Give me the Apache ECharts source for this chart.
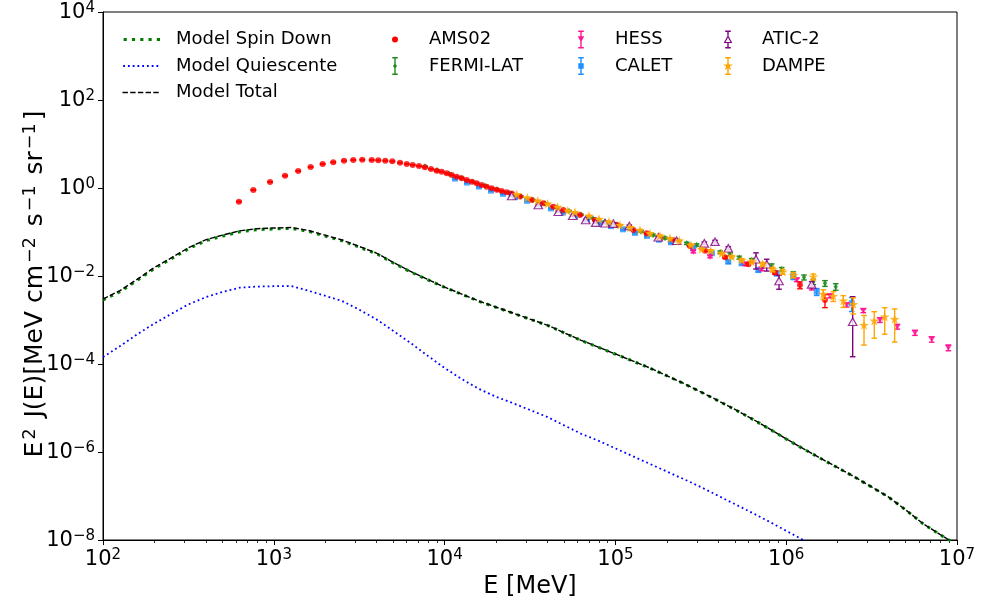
<!DOCTYPE html>
<html><head><meta charset="utf-8">
<script src="https://cdn.jsdelivr.net/npm/echarts@6/dist/echarts.min.js"></script>
<style>html,body{margin:0;padding:0;background:#fff}#c{width:981px;height:605px}</style>
</head><body><div id="c"></div>
<script>
// ---------- model curves (E in MeV, E^2 J(E)) ----------
const modelE = [100,125.9,158.5,199.5,251.2,316.2,398.1,501.2,631,794.3,1000,1259,1585,1995,2512,3162,3981,5012,6310,7943,1e4,1.259e4,1.585e4,1.995e4,2.512e4,3.162e4,3.981e4,5.012e4,6.31e4,7.943e4,1e5,1.259e5,1.585e5,1.995e5,2.512e5,3.162e5,3.981e5,5.012e5,6.31e5,7.943e5,1e6,1.259e6,1.585e6,1.995e6,2.512e6,3.162e6,3.981e6,5.012e6,6.31e6,7.943e6,1e7];
const spinDown = [2.85e-3,4.40e-3,7.94e-3,1.47e-2,2.45e-2,4.15e-2,6.31e-2,8.07e-2,0.101,0.113,0.117,0.121,0.104,8.11e-2,6.31e-2,4.52e-2,3.23e-2,1.97e-2,1.24e-2,8.24e-3,5.51e-3,3.84e-3,2.67e-3,1.95e-3,1.43e-3,1.04e-3,7.62e-4,5.09e-4,3.42e-4,2.40e-4,1.68e-4,1.17e-4,8.13e-5,5.42e-5,3.59e-5,2.31e-5,1.47e-5,9.20e-6,5.65e-6,3.37e-6,1.97e-6,1.18e-6,7.19e-7,4.42e-7,2.70e-7,1.60e-7,9.40e-8,4.81e-8,2.36e-8,1.33e-8,7.69e-9];
const quiescent = [1.44e-4,2.55e-4,4.73e-4,8.28e-4,1.38e-3,2.26e-3,3.28e-3,4.36e-3,5.42e-3,5.74e-3,5.86e-3,5.93e-3,4.66e-3,3.56e-3,2.70e-3,1.72e-3,1.04e-3,5.62e-4,3.03e-4,1.55e-4,8.11e-5,4.56e-5,2.73e-5,1.81e-5,1.29e-5,9.0e-6,6.31e-6,4.03e-6,2.59e-6,1.81e-6,1.21e-6,8.07e-7,5.40e-7,3.61e-7,2.42e-7,1.60e-7,1.02e-7,6.52e-8,4.17e-8,2.62e-8,1.62e-8,1.0e-8,5.9e-9];
const total = [2.99e-3,4.66e-3,8.41e-3,1.55e-2,2.59e-2,4.38e-2,6.64e-2,8.51e-2,0.106,0.119,0.123,0.127,0.109,8.47e-2,6.58e-2,4.69e-2,3.33e-2,2.03e-2,1.27e-2,8.40e-3,5.59e-3,3.89e-3,2.70e-3,1.97e-3,1.44e-3,1.05e-3,7.68e-4,5.13e-4,3.45e-4,2.42e-4,1.69e-4,1.18e-4,8.18e-5,5.46e-5,3.61e-5,2.33e-5,1.48e-5,9.27e-6,5.69e-6,3.40e-6,1.99e-6,1.19e-6,7.25e-7,4.45e-7,2.72e-7,1.61e-7,9.45e-8,4.83e-8,2.37e-8,1.34e-8,7.72e-9];

// ---------- measurements ----------
const amsE = [625,759,951,1164,1390,1643,1932,2229,2576,2921,3297,3743,4092,4498,4943,5483,6003,6506,7079,7674,8325,8985,9616,10290,11010,11780,12600,13470,14420,15420,16490,17640,18870,20180,21580,23090,24700,27630,32340,37830,43290,49530,62060,76010,101800,127400,152500,182500,218400,273400,334700,438500,600300,859700,1204000,1687000];
const amsF = [0.489,0.901,1.37,1.90,2.43,3.00,3.51,3.84,4.17,4.33,4.40,4.33,4.26,4.17,4.04,3.76,3.51,3.33,3.16,2.95,2.70,2.47,2.35,2.16,1.97,1.81,1.66,1.52,1.39,1.28,1.17,1.07,0.984,0.915,0.855,0.798,0.750,0.641,0.533,0.449,0.376,0.316,0.243,0.187,0.144,0.111,0.0933,0.0719,0.0658,0.0481,0.0376,0.0266,0.0185,0.0119,0.00624,0.00285];
const amsErr = [0.02,0.02,0.02,0.02,0.02,0.02,0.02,0.02,0.02,0.02,0.02,0.02,0.02,0.02,0.02,0.02,0.02,0.02,0.02,0.02,0.02,0.02,0.02,0.02,0.02,0.02,0.02,0.02,0.02,0.02,0.02,0.02,0.02,0.02,0.02,0.02,0.02,0.02,0.02,0.02,0.02,0.02,0.02,0.02,0.02,0.02,0.02,0.02,0.02,0.03,0.04,0.05,0.06,0.08,0.18,0.33];

const fermiE = [7674,9027,10610,12480,14660,17240,20270,23820,28010,32930,38720,45510,53500,62900,73950,86940,102200,120100,141300,166000,195200,229500,261600,299300,410900,470000,531500,628000,822600,941000,1101000,1271000,1441000,1687000,1949000];
const fermiF = [3.08,2.52,2.12,1.71,1.38,1.12,0.925,0.778,0.641,0.533,0.445,0.360,0.300,0.246,0.203,0.173,0.148,0.120,0.103,0.0855,0.0731,0.0624,0.0553,0.0507,0.0346,0.0311,0.0261,0.0231,0.0171,0.0142,0.0111,0.00933,0.00741,0.00683,0.00571];
const fermiErr = [0.03,0.03,0.03,0.03,0.03,0.03,0.03,0.03,0.03,0.03,0.03,0.03,0.03,0.03,0.03,0.03,0.04,0.04,0.04,0.05,0.05,0.05,0.06,0.06,0.07,0.07,0.08,0.08,0.1,0.1,0.12,0.13,0.14,0.15,0.17];

const hessE = [285800,358100,573800,718900,1152000,1409000,1805000,2260000,2828000,3540000,4473000,5676000,7110000,8900000];
const hessF = [0.0356,0.0275,0.0185,0.0142,0.00811,0.00525,0.00351,0.00219,0.00163,0.00100,0.000705,0.000514,0.000364,0.000235];
const hessErr = [0.06,0.06,0.07,0.07,0.08,0.08,0.09,0.1,0.1,0.12,0.12,0.13,0.14,0.15];

const caletE = [11510,13520,15890,18690,21980,25830,30370,35700,41980,49340,58010,68190,80170,94240,110800,130200,153100,180000,211600,284700,366300,458100,548900,686700,879800,1101000,1509000,2418000];
const caletF = [1.64,1.33,1.08,0.873,0.738,0.624,0.512,0.420,0.344,0.277,0.231,0.189,0.158,0.136,0.115,0.0955,0.0815,0.0668,0.0583,0.0433,0.0328,0.0211,0.0195,0.0137,0.0115,0.00964,0.00440,0.00240];
const caletErr = [0.03,0.03,0.03,0.03,0.03,0.03,0.03,0.03,0.03,0.03,0.03,0.03,0.03,0.03,0.03,0.04,0.04,0.05,0.05,0.06,0.07,0.08,0.09,0.1,0.12,0.14,0.18,0.35];

const aticE = [24700,35370,46320,56230,67000,76680,86940,97200,120600,178300,228500,331600,383000,458100,665300,768900,907800,1409000,2450000];
const aticF = [0.658,0.411,0.289,0.234,0.187,0.163,0.158,0.155,0.137,0.0758,0.0634,0.0553,0.0603,0.0427,0.0240,0.0185,0.00769,0.00647,0.000914];
const aticErrLo = [0.04,0.04,0.04,0.04,0.04,0.04,0.04,0.05,0.05,0.06,0.06,0.07,0.07,0.08,0.4,0.3,0.35,0.15,0.84];
const aticErrHi = [0.04,0.04,0.04,0.04,0.04,0.04,0.04,0.05,0.05,0.06,0.06,0.07,0.07,0.08,0.4,0.3,0.35,0.15,2.7];

const dampeE = [26430,30500,35080,40150,45920,52560,58010,70050,80170,91730,106400,121800,139300,159400,182500,208800,236600,277100,320100,361400,419300,479700,548900,628000,728600,833600,954000,1101000,1441000,1649000,1887000,2160000,2470000,2855000,3280000,3773000,4315000];
const dampeF = [0.719,0.602,0.514,0.440,0.370,0.305,0.281,0.234,0.197,0.171,0.144,0.128,0.111,0.0933,0.0824,0.0719,0.0634,0.0507,0.0411,0.0376,0.0328,0.0275,0.0231,0.0211,0.0187,0.0142,0.0125,0.0105,0.00964,0.00390,0.00351,0.00275,0.00228,0.000769,0.000964,0.00119,0.00105];
const dampeErr = [0.02,0.02,0.02,0.02,0.02,0.02,0.02,0.02,0.02,0.02,0.02,0.02,0.02,0.02,0.03,0.03,0.03,0.04,0.04,0.05,0.05,0.06,0.07,0.08,0.09,0.1,0.12,0.13,0.15,0.25,0.25,0.3,0.4,0.65,0.6,0.6,0.7];

// ---------- labels ----------
const xTitle = 'E [MeV]';
const legendCol1 = ['Model Spin Down','Model Quiescente','Model Total'];
const legendCol2 = ['AMS02','FERMI-LAT'];
const legendCol3 = ['HESS','CALET'];
const legendCol4 = ['ATIC-2','DAMPE'];

const FONT = 'DejaVu Sans';
const C = {spin:'#008000', quiet:'#0000ff', total:'#000000', ams:'#ff0000', fermi:'#228b22',
           hess:'#ff1493', calet:'#1e90ff', atic:'#800080', dampe:'#ffa500'};

function pairs(xs, ys){ const o=[]; for(let i=0;i<ys.length;i++) o.push([xs[i], ys[i]]); return o; }
function errData(xs, ys, lo, hi){ const o=[]; for(let i=0;i<ys.length;i++) o.push([xs[i], ys[i]*(1-lo[i]), ys[i]*(1+hi[i])]); return o; }

function errSeries(name, data, color, z){
  return {
    type:'custom', name, z, coordinateSystem:'cartesian2d', data,
    encode:{x:0, y:[1,2]}, silent:true,
    renderItem(params, api){
      const x = api.value(0), lo = api.value(1), hi = api.value(2);
      const p1 = api.coord([x, hi]), p2 = api.coord([x, lo]);
      const cw = 2.8, st = {stroke: color, lineWidth: 1.4, fill: null};
      return {type:'group', children:[
        {type:'line', shape:{x1:p1[0], y1:p1[1], x2:p2[0], y2:p2[1]}, style:st},
        {type:'line', shape:{x1:p1[0]-cw, y1:p1[1], x2:p1[0]+cw, y2:p1[1]}, style:st},
        {type:'line', shape:{x1:p2[0]-cw, y1:p2[1], x2:p2[0]+cw, y2:p2[1]}, style:st}
      ]};
    }
  };
}

const STAR = 'path://M20,4.5L21.18,7.88L24.76,7.95L21.9,10.12L22.94,13.55L20,11.5L17.06,13.55L18.1,10.12L15.24,7.95L18.82,7.88Z';
// legend icons (40x19 box, anchored by the two move-to points)
const BOX = 'M0,0M40,19';
const BAR = 'M19.3,0.5H20.7V18.5H19.3ZM17.2,0.5H22.8V1.9H17.2ZM17.2,17.1H22.8V18.5H17.2Z';
function dashIcon(x0, period, len, n, h){
  let p = 'path://' + BOX;
  for (let i = 0; i < n; i++){
    const x = x0 + i*period;
    p += 'M' + x + ',' + (9.5-h/2) + 'H' + (x+len) + 'V' + (9.5+h/2) + 'H' + x + 'Z';
  }
  return p;
}
const icons = {
  spin: dashIcon(1.6, 8.3, 3.2, 5, 3.2),
  quiet: dashIcon(1.2, 4.75, 1.8, 8, 1.8),
  total: dashIcon(0.5, 7.7, 5.4, 5, 1.4),
  ams: 'path://' + BOX + 'M23,9.5A3,3,0,1,1,17,9.5A3,3,0,1,1,23,9.5Z',
  fermi: 'path://' + BOX + BAR + 'M20,6.6L22,9.5L20,12.4L18,9.5Z',
  hess: 'path://' + BOX + BAR + 'M16.8,6.3L23.2,6.3L20,12.3Z',
  calet: 'path://' + BOX + BAR + 'M17.3,6.8H22.7V12.2H17.3Z',
  atic: 'path://' + BOX + 'M19.3,0.5H20.7V5.5H19.3ZM19.3,13H20.7V18.5H19.3ZM17.2,0.5H22.8V1.9H17.2ZM17.2,17.1H22.8V18.5H17.2Z' +
        'M20,5L24.3,13L15.7,13ZM20,7.6L17.6,11.9L22.4,11.9Z',
  dampe: 'path://' + BOX + BAR + 'M20,4.5L21.18,7.88L24.76,7.95L21.9,10.12L22.94,13.55L20,11.5L17.06,13.55L18.1,10.12L15.24,7.95L18.82,7.88Z'
};

function sup(e){ return String(e).replace('-', '\u2212'); }
function powLabel(v){ const e = Math.round(Math.log10(v)); return '{b|10}{s|' + sup(e) + '}'; }
const tickRich = {
  b:{fontSize:21, fontFamily:FONT, color:'#000', lineHeight:22, verticalAlign:'bottom'},
  s:{fontSize:15, fontFamily:FONT, color:'#000', lineHeight:14, padding:[0,0,12,0], verticalAlign:'top'}
};
const nameRich = {
  b:{fontSize:25, fontFamily:FONT, color:'#000', lineHeight:27, verticalAlign:'bottom'},
  s:{fontSize:17.5, fontFamily:FONT, color:'#000', lineHeight:17, padding:[0,3,12,2], verticalAlign:'top'}
};
const yTitle = '{b|E}{s|2}{b| J(E)[MeV cm}{s|\u22122}{b| s}{s|\u22121}{b| sr}{s|\u22121}{b|]}';

function legendComp(left, names, iconMap){
  return {
    left, top:30, orient:'vertical', itemWidth:40, itemHeight:19, itemGap:7.5,
    selectedMode:false, padding:0,
    textStyle:{fontSize:18, fontFamily:FONT, color:'#000', padding:[0,0,0,9], lineHeight:19},
    data: names.map(n => ({name:n, icon: iconMap[n].icon, itemStyle:{color: iconMap[n].color, borderWidth:0}}))
  };
}

const chart = echarts.init(document.getElementById('c'), null, {renderer:'canvas'});
const option = {
  animation:false,
  backgroundColor:'#fff',
  grid:{left:103, right:24, top:12, bottom:65, show:true, borderColor:'#000', borderWidth:1, backgroundColor:'transparent'},
  legend:[
    legendComp(122, legendCol1, {'Model Spin Down':{icon:icons.spin,color:C.spin}, 'Model Quiescente':{icon:icons.quiet,color:C.quiet}, 'Model Total':{icon:icons.total,color:C.total}}),
    legendComp(375, legendCol2, {'AMS02':{icon:icons.ams,color:C.ams}, 'FERMI-LAT':{icon:icons.fermi,color:C.fermi}}),
    legendComp(561, legendCol3, {'HESS':{icon:icons.hess,color:C.hess}, 'CALET':{icon:icons.calet,color:C.calet}}),
    legendComp(708, legendCol4, {'ATIC-2':{icon:icons.atic,color:C.atic}, 'DAMPE':{icon:icons.dampe,color:C.dampe}})
  ],
  xAxis:{
    type:'log', logBase:10, min:100, max:1e7,
    name:xTitle, nameLocation:'middle', nameGap:35, nameMoveOverlap:false,
    nameTextStyle:{fontSize:24, fontFamily:FONT, color:'#000'},
    axisLine:{show:true, lineStyle:{color:'#000', width:1}},
    axisTick:{show:true, inside:false, length:5, lineStyle:{color:'#000', width:1}},
    minorTick:{show:true, splitNumber:9, length:3, lineStyle:{color:'#000', width:0.8}},
    splitLine:{show:false}, minorSplitLine:{show:false},
    axisLabel:{formatter:powLabel, rich:tickRich, margin:8, showMinLabel:true, showMaxLabel:true}
  },
  yAxis:{
    type:'log', logBase:10, min:1e-8, max:1e4, interval:2,
    name:yTitle, nameLocation:'middle', nameGap:55, nameRotate:90, nameMoveOverlap:false,
    nameTextStyle:{rich:nameRich, padding:[0,16,0,0]},
    axisLine:{show:true, lineStyle:{color:'#000', width:1}},
    axisTick:{show:true, inside:false, length:5, lineStyle:{color:'#000', width:1}},
    splitLine:{show:false},
    axisLabel:{formatter:powLabel, rich:tickRich, margin:8, showMinLabel:true, showMaxLabel:true}
  },
  series:[
    {type:'line', name:'Model Spin Down', data:pairs(modelE, spinDown), symbol:'none', showSymbol:false, z:1,
     lineStyle:{color:C.spin, width:3, type:[3,5], cap:'butt'}, itemStyle:{color:C.spin}},
    {type:'line', name:'Model Quiescente', data:pairs(modelE, quiescent), symbol:'none', showSymbol:false, z:1,
     lineStyle:{color:C.quiet, width:1.8, type:[1.8,3], cap:'butt'}, itemStyle:{color:C.quiet}},
    {type:'line', name:'Model Total', data:pairs(modelE, total), symbol:'none', showSymbol:false, z:1,
     lineStyle:{color:C.total, width:1.4, type:[5.4,2.3], cap:'butt'}, itemStyle:{color:C.total}},

    errSeries('FERMI-LAT', errData(fermiE, fermiF, fermiErr, fermiErr), C.fermi, 3),
    {type:'scatter', name:'FERMI-LAT', z:3, data:pairs(fermiE, fermiF), symbol:'diamond', symbolSize:[4.5,6.5], itemStyle:{color:C.fermi}},
    errSeries('CALET', errData(caletE, caletF, caletErr, caletErr), C.calet, 4),
    {type:'scatter', name:'CALET', z:4, data:pairs(caletE, caletF), symbol:'rect', symbolSize:6, itemStyle:{color:C.calet}},
    errSeries('HESS', errData(hessE, hessF, hessErr, hessErr), C.hess, 5),
    {type:'scatter', name:'HESS', z:5, data:pairs(hessE, hessF), symbol:'triangle', symbolRotate:180, symbolSize:[7,6], itemStyle:{color:C.hess}},
    errSeries('AMS02', errData(amsE, amsF, amsErr, amsErr), C.ams, 6),
    {type:'scatter', name:'AMS02', z:6, data:pairs(amsE, amsF), symbol:'circle', symbolSize:6, itemStyle:{color:C.ams}},
    errSeries('ATIC-2', errData(aticE, aticF, aticErrLo, aticErrHi), C.atic, 7),
    {type:'scatter', name:'ATIC-2', z:7, data:pairs(aticE, aticF), symbol:'triangle', symbolSize:[8.5,7.5],
     itemStyle:{color:'#fff', borderColor:C.atic, borderWidth:1.2}},
    errSeries('DAMPE', errData(dampeE, dampeF, dampeErr, dampeErr), C.dampe, 8),
    {type:'scatter', name:'DAMPE', z:8, data:pairs(dampeE, dampeF), symbol:STAR, symbolSize:[10,9.5], itemStyle:{color:C.dampe}}
  ]
};
chart.setOption(option);
</script>
</body></html>
